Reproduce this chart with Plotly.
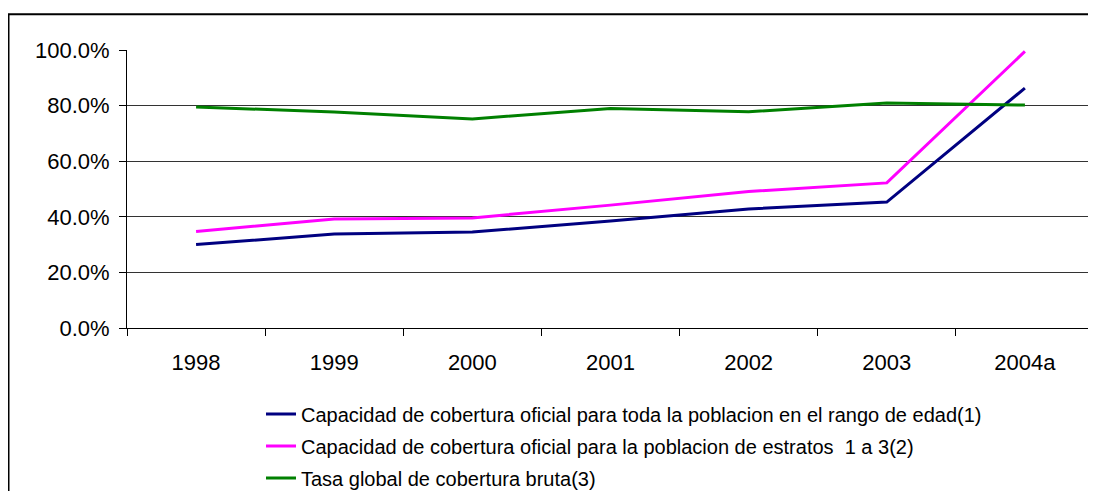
import plotly.graph_objects as go

years = ["1998", "1999", "2000", "2001", "2002", "2003", "2004a"]
cap_toda = [0.300, 0.338, 0.345, 0.385, 0.428, 0.453, 0.863]
cap_estratos = [0.347, 0.392, 0.396, 0.442, 0.491, 0.522, 0.995]
tasa_global = [0.795, 0.777, 0.752, 0.790, 0.778, 0.809, 0.802]

names = [
    "Capacidad de cobertura oficial para toda la poblacion en el rango de edad(1)",
    "Capacidad de cobertura oficial para la poblacion de estratos  1 a 3(2)",
    "Tasa global de cobertura bruta(3)",
]
colors = ["#000080", "#FF00FF", "#008000"]
series = [cap_toda, cap_estratos, tasa_global]

FONT = "Liberation Sans, Arial, sans-serif"

# page body has an 8px margin; figure sized so page == window (no scaling)
W, H = 1080, 483
L, R, T, B = 119, 0, 42, 163
plot_w = W - L - R
plot_h = H - T - B
cat_w = 138.14  # category width in reference (px)

fig = go.Figure()
for i, (nm, col, vals) in enumerate(zip(names, colors, series)):
    fig.add_trace(go.Scatter(
        x=years, y=vals, mode="lines", name=nm,
        line=dict(color=col, width=3),
        legendgroup=f"g{i}",
    ))

fig.update_layout(
    width=W, height=H,
    margin=dict(l=L, r=R, t=T, b=B, autoexpand=False),
    paper_bgcolor="white", plot_bgcolor="white",
    font=dict(family=FONT, color="black"),
    showlegend=True,
    legend=dict(
        x=(253 - L) / plot_w, y=-0.2388, xanchor="left", yanchor="top",
        font=dict(size=20, family=FONT, color="black"),
        tracegroupgap=3, traceorder="grouped",
        bgcolor="rgba(0,0,0,0)", itemwidth=30,
    ),
    xaxis=dict(
        type="category", showgrid=False,
        showline=True, linecolor="black", linewidth=1,
        ticks="outside", tickson="boundaries", ticklen=7, tickcolor="black",
        tickfont=dict(size=22, family=FONT, color="black"),
        ticklabelstandoff=15,
        range=[-0.5, -0.5 + plot_w / cat_w], fixedrange=True,
    ),
    yaxis=dict(
        range=[0, 1.0], dtick=0.2, tickformat=".1%",
        showgrid=True, gridcolor="#333333", gridwidth=1,
        showline=True, linecolor="black", linewidth=1,
        ticks="outside", ticklen=7, tickcolor="black",
        tickfont=dict(size=22, family=FONT, color="black"),
        ticklabelstandoff=5,
        zeroline=False, fixedrange=True,
    ),
    shapes=[
        dict(type="rect", xref="paper", yref="paper",
             x0=(0.5 - L) / plot_w, x1=1.2, y0=-0.8, y1=1 + (T - 6.3) / plot_h,
             line=dict(color="black", width=2), fillcolor="rgba(0,0,0,0)", layer="below"),
    ],
)

fig.write_html("out.html")
